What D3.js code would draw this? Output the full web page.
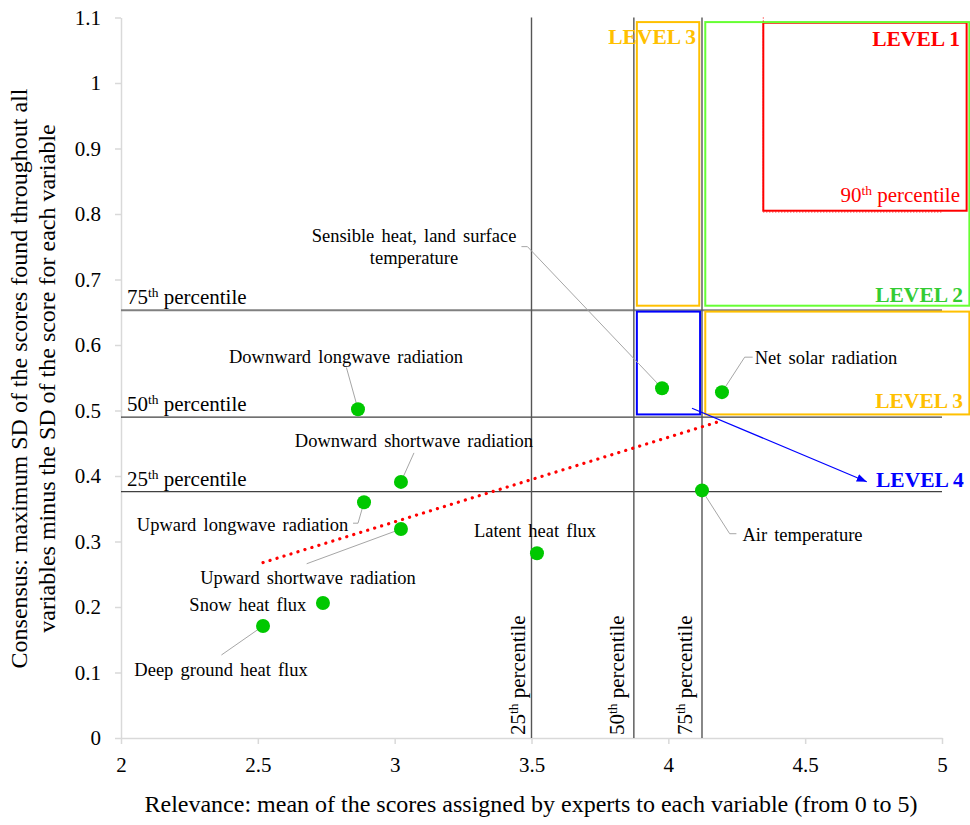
<!DOCTYPE html>
<html>
<head>
<meta charset="utf-8">
<script src="https://cdn.jsdelivr.net/npm/d3@7"></script>
<style>
  body { margin: 0; background: #fff; }
  svg { display: block; }
  svg text { font-family: "Liberation Serif", "Times New Roman", serif; }
</style>
</head>
<body>
<svg id="chart" width="970" height="825" font-family="Liberation Serif, Times New Roman, serif"></svg>
<script>
// ---- data ----------------------------------------------------------------
const variables = [
  "Downward longwave radiation",
  "Downward shortwave radiation",
  "Upward longwave radiation",
  "Upward shortwave radiation",
  "Latent heat flux",
  "Snow heat flux",
  "Deep ground heat flux",
  "Sensible heat, land surface temperature",
  "Net solar radiation",
  "Air temperature"
];
const relevance = [2.866, 3.023, 2.888, 3.023, 3.520, 2.738, 2.519, 3.977, 4.196, 4.123];
const consensus = [0.502, 0.391, 0.360, 0.319, 0.282, 0.206, 0.171, 0.534, 0.528, 0.378];

const xTicks = [2, 2.5, 3, 3.5, 4, 4.5, 5];
const yTicks = [0, 0.1, 0.2, 0.3, 0.4, 0.5, 0.6, 0.7, 0.8, 0.9, 1, 1.1];

const percentileNames = ["25", "50", "75"];
const relevancePercentiles = [3.5, 3.874, 4.123];
const consensusPercentiles = [0.376, 0.490, 0.653];
const relevanceP90 = 4.347;
const consensusP90 = 0.803;

// priority regions (relevance range, consensus range)
const levelNames = ["LEVEL 1", "LEVEL 2", "LEVEL 3", "LEVEL 3", "LEVEL 4"];
const levelX0 = [4.347, 4.135, 3.885, 4.135, 3.885];
const levelX1 = [5.090, 5.100, 4.113, 5.100, 4.116];
const levelY0 = [0.805, 0.660, 0.660, 0.494, 0.494];
const levelY1 = [1.092, 1.093, 1.093, 0.651, 0.651];
const levelColors = ["#ff0000", "#66ff33", "#ffc000", "#ffc000", "#0000ff"];
const levelTextColors = ["#ff0000", "#33cc33", "#ffc000", "#ffc000", "#0000ff"];

// LEVEL 4 arrow, in data units
const arrowFrom = [4.0865, 0.5034];
const arrowTo = [4.725, 0.3913];

// ---- layout ----------------------------------------------------------------
const x = d3.scaleLinear().domain([2, 5]).range([121, 942]);
const y = d3.scaleLinear().domain([0, 1.1]).range([738, 17.5]);

const svg = d3.select("#chart");
const serif = '"Liberation Serif", "Times New Roman", serif';
const axisGrey = "#d9d9d9";
const lineGrey = "#404040";
const leaderGrey = "#a6a6a6";

// text placement of each point label, relative to its point (pixels)
const labelLayout = [
  { anchor: "middle", dx: -12,   dy: [-46],          leader: [[-11.6, -41.7]] },
  { anchor: "middle", dx: 13,    dy: [-34.6],        leader: [[13, -29]] },
  { anchor: "end",    dx: -15.7, dy: [28.4],         leader: [[-11, 21], [-6, 21]] },
  { anchor: "middle", dx: -93,   dy: [54.7],         leader: [[-94.3, 34.7]] },
  { anchor: "middle", dx: -2,    dy: [-16.3],        leader: null },
  { anchor: "end",    dx: -16.6, dy: [8.3],          leader: null },
  { anchor: "middle", dx: -42,   dy: [50],           leader: [[-41.6, 29]] },
  { anchor: "middle", dx: -248,  dy: [-146.3, -124], leader: [[-140.6, -141.6], [-134.6, -141.6]] },
  { anchor: "start",  dx: 32.7,  dy: [-28.4],        leader: [[30.7, -35], [22.7, -35]] },
  { anchor: "start",  dx: 40.4,  dy: [50.7],         leader: [[34.4, 43.3], [27.7, 43.3]] }
];
const labelLines = [
  ["Downward longwave radiation"],
  ["Downward shortwave radiation"],
  ["Upward longwave radiation"],
  ["Upward shortwave radiation"],
  ["Latent heat flux"],
  ["Snow heat flux"],
  ["Deep ground heat flux"],
  ["Sensible heat, land surface", "temperature"],
  ["Net solar radiation"],
  ["Air temperature"]
];

// ---- axes ----------------------------------------------------------------
const fmt = v => String(v);

const yAxis = svg.append("g")
  .attr("transform", `translate(${x(2)},0)`)
  .call(d3.axisLeft(y).tickValues(yTicks).tickFormat(fmt).tickSize(6).tickSizeOuter(0).tickPadding(14));
const xAxis = svg.append("g")
  .attr("transform", `translate(0,${y(0)})`)
  .call(d3.axisBottom(x).tickValues(xTicks).tickFormat(fmt).tickSize(6).tickSizeOuter(0).tickPadding(13));

[xAxis, yAxis].forEach(g => {
  g.attr("font-family", serif).attr("font-size", 21);
  g.select(".domain").attr("stroke", axisGrey).attr("stroke-width", 1.5);
  g.selectAll(".tick line").attr("stroke", axisGrey).attr("stroke-width", 1.5);
  g.selectAll(".tick text").attr("fill", "#000").attr("font-family", serif).style("font-size", "21px");
});

// axis titles
svg.append("text")
  .attr("x", 531).attr("y", 812)
  .attr("text-anchor", "middle")
  .attr("font-family", serif)
  .style("font-size", "24px")
  .text("Relevance: mean of the scores assigned by experts to each variable (from 0 to 5)");

const yTitle = svg.append("text")
  .attr("transform", "translate(0,378.5) rotate(-90)")
  .attr("text-anchor", "middle")
  .attr("font-family", serif)
  .style("font-size", "24px");
yTitle.append("tspan").attr("x", 0).attr("y", 27)
  .text("Consensus: maximum SD of the scores found throughout all");
yTitle.append("tspan").attr("x", 0).attr("y", 55)
  .text("variables minus the SD of the score for each variable");

// helper: "NNth percentile" with superscript
function percentileText(sel, n) {
  sel.attr("font-family", serif);
  sel.append("tspan").text(n);
  sel.append("tspan").attr("dy", -7).style("font-size", "13.5px").text("th");
  sel.append("tspan").attr("dy", 7).text(" percentile");
}

// ---- percentile lines ------------------------------------------------------
const pct = svg.append("g");
consensusPercentiles.forEach((v, i) => {
  const upper = i === 2;
  pct.append("line")
    .attr("x1", x(2)).attr("x2", x(5))
    .attr("y1", y(v)).attr("y2", y(v))
    .attr("stroke", upper ? "#808080" : lineGrey)
    .attr("stroke-width", upper ? 2 : 1.3);
  const t = pct.append("text")
    .attr("x", x(2) + 6).attr("y", y(v) - 6)
    .style("font-size", "21px");
  percentileText(t, percentileNames[i]);
});
relevancePercentiles.forEach((v, i) => {
  pct.append("line")
    .attr("x1", x(v)).attr("x2", x(v))
    .attr("y1", y(0)).attr("y2", y(1.1))
    .attr("stroke", "#555").attr("stroke-width", 1.4);
  const t = pct.append("text")
    .attr("transform", `translate(${x(v) - (i === 0 ? 7 : 10)},${y(0) - 3}) rotate(-90)`)
    .style("font-size", "21px");
  percentileText(t, percentileNames[i]);
});

// ---- priority regions --------------------------------------------------------
const boxes = svg.append("g");
levelNames.forEach((name, i) => {
  boxes.append("rect")
    .attr("x", x(levelX0[i])).attr("y", y(levelY1[i]))
    .attr("width", x(levelX1[i]) - x(levelX0[i]))
    .attr("height", y(levelY0[i]) - y(levelY1[i]))
    .attr("fill", "none")
    .attr("stroke", levelColors[i]).attr("stroke-width", 2);
});

// 90th percentile guides
boxes.append("line")
  .attr("x1", x(relevanceP90)).attr("x2", x(relevanceP90))
  .attr("y1", y(1.1)).attr("y2", y(consensusP90))
  .attr("stroke", "#ff0000").attr("stroke-width", 1).attr("stroke-dasharray", "1 2");
boxes.append("line")
  .attr("x1", x(relevanceP90)).attr("x2", x(5))
  .attr("y1", y(consensusP90)).attr("y2", y(consensusP90))
  .attr("stroke", "#ff0000").attr("stroke-width", 1).attr("stroke-dasharray", "1 2");

// level captions
const cap = (txt, color, px, py, anchor) => boxes.append("text")
  .attr("x", px).attr("y", py).attr("text-anchor", anchor)
  .attr("fill", color).attr("font-family", serif)
  .style("font-size", "21.5px").style("font-weight", "bold")
  .text(txt);
cap(levelNames[2], levelTextColors[2], 696, 44, "end");
cap(levelNames[0], levelTextColors[0], 960, 46, "end");
cap(levelNames[1], levelTextColors[1], 963, 302, "end");
cap(levelNames[3], levelTextColors[3], 963, 408, "end");
cap(levelNames[4], levelTextColors[4], 876, 487, "start");

const p90 = boxes.append("text")
  .attr("x", 960).attr("y", 202).attr("text-anchor", "end")
  .attr("fill", "#ff0000").style("font-size", "21px");
percentileText(p90, "90");

// ---- LEVEL 4 arrow ---------------------------------------------------------
svg.append("defs").append("marker")
  .attr("id", "arrowhead")
  .attr("viewBox", "0 0 10 10").attr("refX", 10).attr("refY", 5)
  .attr("markerWidth", 10).attr("markerHeight", 10)
  .attr("markerUnits", "userSpaceOnUse")
  .attr("orient", "auto")
  .append("path").attr("d", "M0,1 L10,5 L0,9 Z").attr("fill", "#0000ff");
svg.append("line")
  .attr("x1", x(arrowFrom[0])).attr("y1", y(arrowFrom[1]))
  .attr("x2", x(arrowTo[0])).attr("y2", y(arrowTo[1]))
  .attr("stroke", "#0000ff").attr("stroke-width", 1.2)
  .attr("marker-end", "url(#arrowhead)");

// ---- linear trend (least squares) -------------------------------------------
const mx = d3.mean(relevance), my = d3.mean(consensus);
const sxy = d3.sum(relevance, (v, i) => (v - mx) * (consensus[i] - my));
const sxx = d3.sum(relevance, v => (v - mx) * (v - mx));
const slope = sxy / sxx, intercept = my - slope * mx;
const [tx0, tx1] = d3.extent(relevance);
svg.append("line")
  .attr("x1", x(tx0)).attr("y1", y(intercept + slope * tx0))
  .attr("x2", x(tx1)).attr("y2", y(intercept + slope * tx1))
  .attr("stroke", "#ff0000").attr("stroke-width", 3.2)
  .attr("stroke-linecap", "round").attr("stroke-dasharray", "0.1 7.2");

// ---- points, leaders and labels ------------------------------------------
const pts = svg.append("g");
variables.forEach((name, i) => {
  const px = x(relevance[i]), py = y(consensus[i]);
  const lay = labelLayout[i];
  if (lay.leader) {
    const path = d3.path();
    path.moveTo(px + lay.leader[0][0], py + lay.leader[0][1]);
    lay.leader.slice(1).forEach(p => path.lineTo(px + p[0], py + p[1]));
    path.lineTo(px, py);
    pts.append("path").attr("d", path.toString())
      .attr("fill", "none").attr("stroke", leaderGrey).attr("stroke-width", 1);
  }
});
variables.forEach((name, i) => {
  pts.append("circle")
    .attr("cx", x(relevance[i])).attr("cy", y(consensus[i]))
    .attr("r", 7).attr("fill", "#00c800");
});
variables.forEach((name, i) => {
  const px = x(relevance[i]), py = y(consensus[i]);
  const lay = labelLayout[i];
  labelLines[i].forEach((line, k) => {
    pts.append("text")
      .attr("x", px + lay.dx).attr("y", py + lay.dy[k])
      .attr("text-anchor", lay.anchor)
      .attr("font-family", serif)
      .style("font-size", "18.5px").style("word-spacing", "2.5px")
      .text(line);
  });
});
</script>
</body>
</html>
